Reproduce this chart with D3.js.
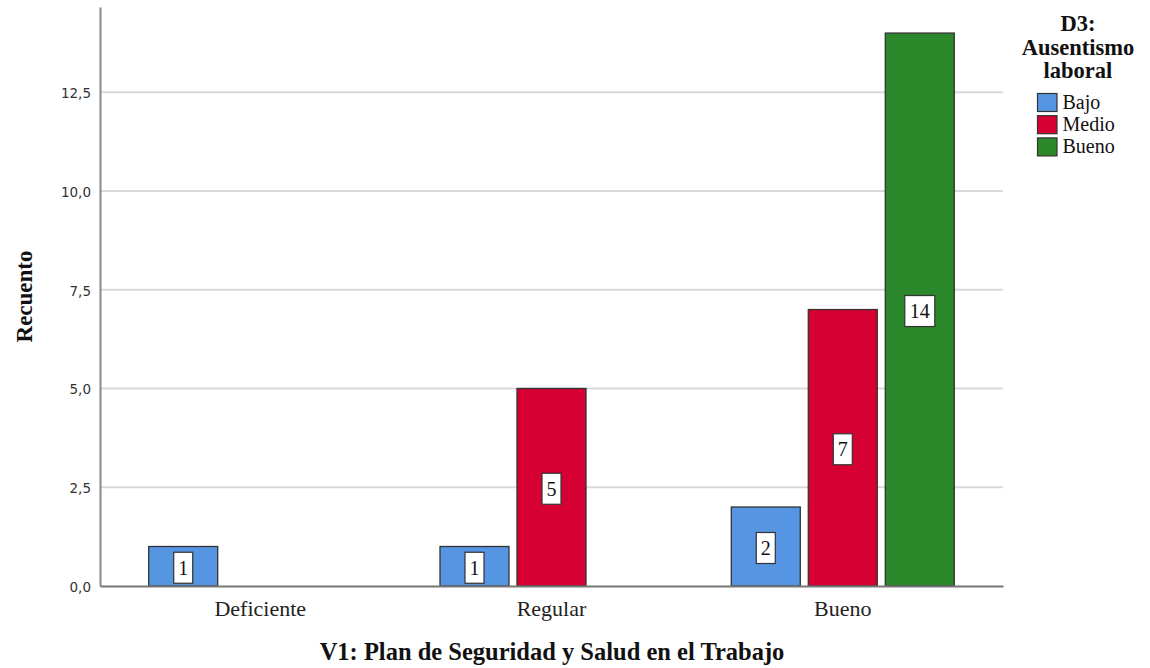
<!DOCTYPE html>
<html><head><meta charset="utf-8">
<script src="https://cdn.jsdelivr.net/npm/d3@7"></script>
<style>body{margin:0;background:#fff}svg{display:block}</style>
</head><body><svg id="c" width="1150" height="668" font-family="Liberation Serif, Times New Roman, serif"></svg>
<script>
const categories = ["Deficiente", "Regular", "Bueno"];
const seriesNames = ["Bajo", "Medio", "Bueno"];
const bajo = [1, 1, 2];
const medio = [0, 5, 7];
const bueno = [0, 0, 14];
const yTicks = [0, 2.5, 5, 7.5, 10, 12.5];
const colors = ["#5595E2", "#D70032", "#2A872A"];
const seriesVals = [bajo, medio, bueno];

const svg = d3.select("#c");
const m = {l: 100, r: 147, t: 7, b: 82};
const W = 1150, H = 668;
const SERIF = "Liberation Serif, Times New Roman, serif";
const x0 = d3.scaleBand().domain(categories).range([m.l, W - m.r]).paddingOuter(0.05).paddingInner(0);
const x1 = d3.scaleBand().domain(seriesNames).range([0, 231]);
const y = d3.scaleLinear().domain([0, 14.66]).range([H - m.b, m.t]);
const fmt = v => d3.format(".1f")(v).replace(".", ",");

// gridlines
svg.append("g").selectAll("line").data(yTicks.filter(d => d > 0)).join("line")
  .attr("x1", m.l).attr("x2", W - m.r).attr("y1", d => y(d)).attr("y2", d => y(d))
  .attr("stroke", "#d9d9d9").attr("stroke-width", 2);

// y axis
const ya = svg.append("g").attr("transform", `translate(${m.l},0)`)
  .call(d3.axisLeft(y).tickValues(yTicks).tickFormat(fmt).tickSize(0).tickPadding(9));
ya.select(".domain").attr("stroke", "#888").attr("stroke-width", 2);
ya.attr("font-family", "DejaVu Sans").attr("font-size", 13.5);
ya.selectAll("text").attr("fill", "#333").attr("dy", "0.4em");

// bars
const groups = svg.append("g").selectAll("g").data(categories).join("g")
  .attr("transform", d => `translate(${x0(d) + x0.bandwidth() / 2 - 115.5},0)`);
const barData = (c, i) => seriesNames.map((s, j) => ({s, j, v: seriesVals[j][i]})).filter(d => d.v > 0);
groups.each(function(c, i) {
  const g = d3.select(this);
  const data = barData(c, i);
  g.selectAll("rect.bar").data(data).join("rect").attr("class", "bar")
    .attr("x", d => x1(d.s) + 4).attr("width", x1.bandwidth() - 8)
    .attr("y", d => y(d.v)).attr("height", d => y(0) - y(d.v))
    .attr("fill", d => colors[d.j]).attr("stroke", "#333").attr("stroke-width", 1.3);
  const lab = g.selectAll("g.lab").data(data).join("g").attr("class", "lab")
    .attr("transform", d => `translate(${x1(d.s) + x1.bandwidth() / 2},${(y(d.v) + y(0)) / 2 + 1.5})`);
  lab.append("rect").attr("x", d => d.v >= 10 ? -15 : -9.5).attr("width", d => d.v >= 10 ? 30 : 19)
    .attr("y", -15.5).attr("height", 31).attr("fill", "#fff").attr("stroke", "#333").attr("stroke-width", 1.2);
  lab.append("text").attr("text-anchor", "middle").attr("dy", "0.34em").attr("font-size", 20).attr("fill", "#111")
    .text(d => d.v);
});

// x axis
const xa = svg.append("g").attr("transform", `translate(0,${y(0)})`)
  .call(d3.axisBottom(x0).tickSize(0).tickPadding(12));
xa.select(".domain").attr("stroke", "#777").attr("stroke-width", 2);
xa.attr("font-family", SERIF).attr("font-size", 22);
xa.selectAll("text").attr("fill", "#222").attr("y", 30).attr("dy", null);

// axis titles
svg.append("text").attr("x", 552).attr("y", 660).attr("text-anchor", "middle")
  .attr("font-size", 24.5).attr("font-weight", "bold").attr("fill", "#111")
  .text("V1: Plan de Seguridad y Salud en el Trabajo");
svg.append("text").attr("transform", `translate(32,296.5) rotate(-90)`).attr("text-anchor", "middle")
  .attr("font-size", 23).attr("font-weight", "bold").attr("fill", "#111").text("Recuento");

// legend
const lt = svg.append("text").attr("text-anchor", "middle").attr("font-size", 22.5)
  .attr("font-weight", "bold").attr("fill", "#111");
["D3:", "Ausentismo", "laboral"].forEach((t, i) => lt.append("tspan").attr("x", 1078).attr("y", 31 + i * 23.5).text(t));
const li = svg.append("g").selectAll("g").data(seriesNames).join("g")
  .attr("transform", (d, i) => `translate(1037.5,${93.5 + i * 22.2})`);
li.append("rect").attr("width", 19.5).attr("height", 18).attr("fill", (d, i) => colors[i]).attr("stroke", "#333").attr("stroke-width", 1.2);
li.append("text").attr("x", 25).attr("y", 15.5).attr("font-size", 20).attr("fill", "#111").text(d => d);
</script></body></html>
